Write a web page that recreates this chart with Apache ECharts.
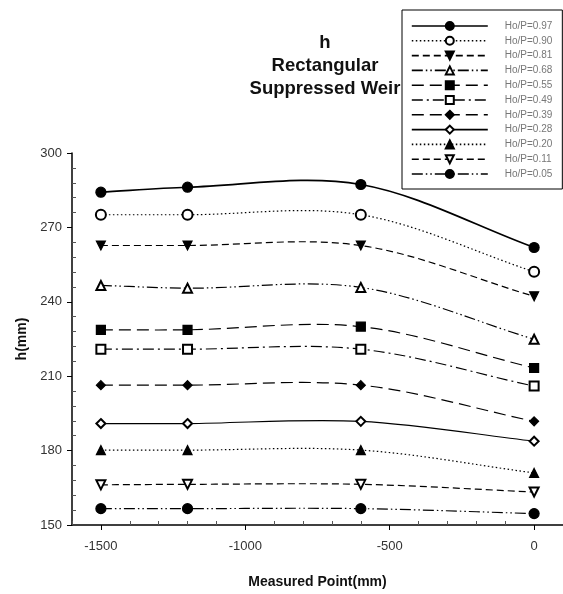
<!DOCTYPE html>
<html>
<head>
<meta charset="utf-8">
<script src="https://cdn.jsdelivr.net/npm/echarts@6/dist/echarts.min.js"></script>
<style>
  html, body { margin: 0; padding: 0; background: #fff; }
  #chart { width: 563px; height: 594px; }
</style>
</head>
<body>
<div id="chart"></div>
<script>
// Pontos medidos (mm) e alturas h (mm) para cada Ho/P
const pontos = [-1500, -1200, -600, 0];
const nomes = ['Ho/P=0.97', 'Ho/P=0.90', 'Ho/P=0.81', 'Ho/P=0.68', 'Ho/P=0.55', 'Ho/P=0.49',
               'Ho/P=0.39', 'Ho/P=0.28', 'Ho/P=0.20', 'Ho/P=0.11', 'Ho/P=0.05'];
const h097 = [284.2, 286.2, 287.3, 261.9];
const h090 = [275.1, 275.1, 275.1, 252.1];
const h081 = [262.7, 262.7, 262.7, 242.2];
const h068 = [246.6, 245.5, 245.8, 224.9];
const h055 = [228.7, 228.7, 230.0, 213.3];
const h049 = [220.9, 220.9, 220.9, 206.0];
const h039 = [206.4, 206.4, 206.4, 191.8];
const h028 = [190.9, 190.9, 191.8, 183.8];
const h020 = [180.2, 180.2, 180.2, 171.0];
const h011 = [166.2, 166.4, 166.4, 163.3];
const h005 = [156.6, 156.6, 156.6, 154.6];
const xTicks = [-1500, -1000, -500, 0];
const yTicks = [150, 180, 210, 240, 270, 300];

const valores = [h097, h090, h081, h068, h055, h049, h039, h028, h020, h011, h005];

// estilo de cada linha: tracejado, símbolo, rotação
const estilos = [
    { dash: 'solid', symbol: 'circle', w: 1.6 },
    { dash: [1.5, 2.5], symbol: 'emptyCircle' },
    { dash: [7, 4], symbol: 'triangle', rot: 180 },
    { dash: [11, 3, 1.5, 3, 1.5, 3], symbol: 'emptyTriangle' },
    { dash: [12, 6], symbol: 'rect' },
    { dash: [11, 4, 2, 4], symbol: 'emptyRect' },
    { dash: [12, 6], symbol: 'diamond' },
    { dash: 'solid', symbol: 'emptyDiamond' },
    { dash: [1.5, 2.5], symbol: 'triangle' },
    { dash: [7, 4], symbol: 'emptyTriangle', rot: 180 },
    { dash: [11, 3, 1.5, 3, 1.5, 3], symbol: 'circle' }
];

// Curva spline (Hermite com tangentes de diferenças finitas) convertida em bézier
function caminhoSpline(api, ys) {
    const n = pontos.length;
    const m = ys.map((y, i) => {
        if (i === 0) return (ys[1] - ys[0]) / (pontos[1] - pontos[0]);
        if (i === n - 1) return (ys[n - 1] - ys[n - 2]) / (pontos[n - 1] - pontos[n - 2]);
        return (ys[i + 1] - ys[i - 1]) / (pontos[i + 1] - pontos[i - 1]);
    });
    const p0 = api.coord([pontos[0], ys[0]]);
    let d = 'M' + p0[0] + ',' + p0[1];
    for (let i = 0; i < n - 1; i++) {
        const h = pontos[i + 1] - pontos[i];
        const c1 = api.coord([pontos[i] + h / 3, ys[i] + m[i] * h / 3]);
        const c2 = api.coord([pontos[i + 1] - h / 3, ys[i + 1] - m[i + 1] * h / 3]);
        const p = api.coord([pontos[i + 1], ys[i + 1]]);
        d += ' C' + c1[0] + ',' + c1[1] + ' ' + c2[0] + ',' + c2[1] + ' ' + p[0] + ',' + p[1];
    }
    return d;
}

const curvas = valores.map((v, i) => ({
    type: 'custom',
    name: nomes[i] + ' curva',
    data: pontos.map((x, j) => [x, v[j]]),
    encode: { x: 0, y: 1 },
    z: 2,
    silent: true,
    renderItem: (params, api) => {
        if (params.dataIndex !== 0) return null;
        const e = estilos[i];
        return {
            type: 'path',
            shape: { pathData: caminhoSpline(api, v) },
            style: {
                fill: 'none',
                stroke: '#000',
                lineWidth: e.w || 1.2,
                lineDash: e.dash === 'solid' ? null : e.dash
            }
        };
    }
}));

const marcadores = valores.map((v, i) => ({
    type: 'line',
    name: nomes[i],
    data: pontos.map((x, j) => [x, v[j]]),
    z: 3,
    symbol: estilos[i].symbol,
    symbolRotate: estilos[i].rot || 0,
    symbolSize: estilos[i].symbol.indexOf('ircle') >= 0 ? 10 : 9,
    lineStyle: { color: '#000', width: estilos[i].w || 1.2, type: estilos[i].dash, opacity: 0 },
    itemStyle: { color: '#000', borderColor: '#000', borderWidth: 1.2 },
    emphasis: { disabled: true }
}));

// ticks menores (para dentro)
const xMinor = [];
for (let x = -1600; x <= 100; x += 100) if (xTicks.indexOf(x) < 0) xMinor.push(x);
const yMinor = [];
for (let y = 150; y <= 300; y += 6) if (yTicks.indexOf(y) < 0) yMinor.push(y);

const fonte = 'Liberation Sans';
const chart = echarts.init(document.getElementById('chart'));
chart.setOption({
    animation: false,
    backgroundColor: '#fff',
    title: {
        text: 'h\nRectangular\nSuppressed Weir',
        left: 320,
        top: 26,
        textAlign: 'center',
        textStyle: { fontFamily: fonte, fontSize: 18.5, fontWeight: 'bold', color: '#111', lineHeight: 23, align: 'center' }
    },
    legend: {
        orient: 'vertical',
        left: 402,
        top: 10,
        padding: [11, 10, 10, 9],
        itemWidth: 76,
        itemHeight: 10,
        itemGap: 4.8,
        borderColor: '#000',
        borderWidth: 1,
        backgroundColor: '#fff',
        selectedMode: false,
        lineStyle: { opacity: 1, width: 1.6 },
        textStyle: { fontFamily: fonte, fontSize: 10, color: '#777', lineHeight: 10, padding: [0, 0, 0, 12] },
        data: nomes
    },
    grid: { left: 72, right: -3, top: 153, bottom: 63, containLabel: false },
    xAxis: [{
        type: 'value',
        min: -1600,
        max: 100,
        position: 'bottom',
        name: 'Measured Point(mm)',
        nameLocation: 'middle',
        nameGap: 50,
        nameTextStyle: { fontFamily: fonte, fontSize: 14, fontWeight: 'bold', color: '#111' },
        axisLine: { onZero: false, lineStyle: { color: '#000', width: 1.5 } },
        axisTick: { customValues: xTicks, length: 5, lineStyle: { color: '#000' } },
        axisLabel: { customValues: xTicks, formatter: v => String(v), margin: 15, fontFamily: fonte, fontSize: 13, color: '#333' },
        splitLine: { show: false }
    }, {
        type: 'value',
        min: -1600,
        max: 100,
        position: 'bottom',
        axisLine: { show: false, onZero: false },
        axisTick: { customValues: xMinor, inside: true, length: 4, lineStyle: { color: '#555' } },
        axisLabel: { show: false },
        splitLine: { show: false }
    }],
    yAxis: [{
        type: 'value',
        min: 150,
        max: 300,
        interval: 30,
        position: 'left',
        name: 'h(mm)',
        nameLocation: 'middle',
        nameGap: 43,
        nameTextStyle: { fontFamily: fonte, fontSize: 14, fontWeight: 'bold', color: '#111' },
        axisLine: { show: true, onZero: false, lineStyle: { color: '#000', width: 1.5 } },
        axisTick: { show: true, length: 5, lineStyle: { color: '#000' } },
        axisLabel: { margin: 10, fontFamily: fonte, fontSize: 13, color: '#333' },
        splitLine: { show: false }
    }, {
        type: 'value',
        min: 150,
        max: 300,
        position: 'left',
        axisLine: { show: false, onZero: false },
        axisTick: { show: true, customValues: yMinor, inside: true, length: 4, lineStyle: { color: '#555' } },
        axisLabel: { show: false },
        splitLine: { show: false }
    }],
    series: curvas.concat(marcadores)
});
</script>
</body>
</html>
